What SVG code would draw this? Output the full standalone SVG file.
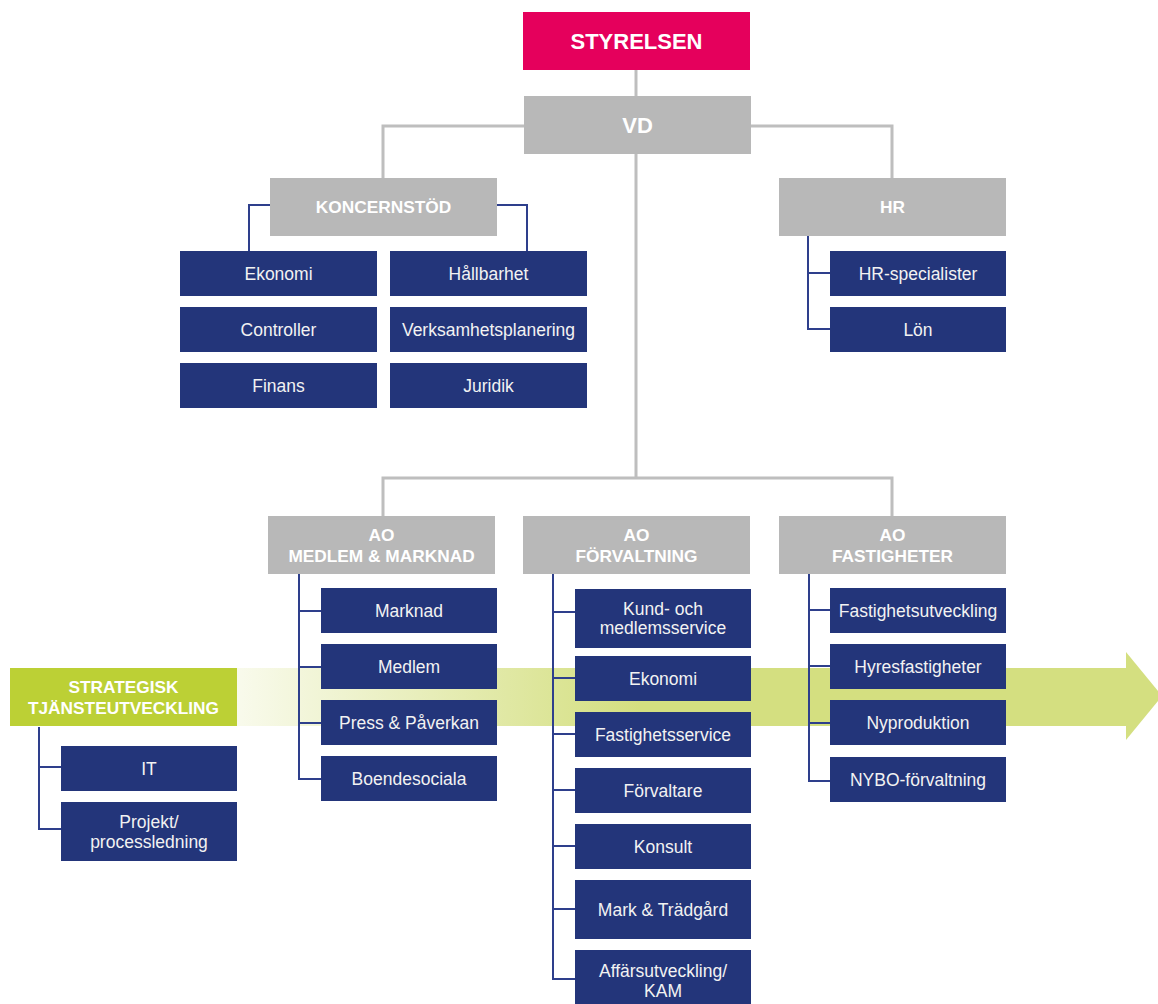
<svg xmlns="http://www.w3.org/2000/svg" width="1158" height="1004" viewBox="0 0 1158 1004">
<style>
.top{fill:#E5005C}
.head{fill:#B8B8B8}
.unit{fill:#23357A}
.strat{fill:#BCD035}
.ht{font-family:"Liberation Sans",Arial,sans-serif;font-weight:bold;fill:#FFFFFF;text-anchor:middle;font-size:17.3px}
.ut{font-family:"Liberation Sans",Arial,sans-serif;fill:#F2F2F2;text-anchor:middle;font-size:17.5px}
.gl{fill:none;stroke:#BEBEBE;stroke-width:3}
.bl{fill:none;stroke:#2E3F8C;stroke-width:2}
</style>
<defs>
<linearGradient id="band" gradientUnits="userSpaceOnUse" x1="237" y1="0" x2="640" y2="0">
<stop offset="0" stop-color="#D4DF80" stop-opacity="0.15"/>
<stop offset="1" stop-color="#D4DF80" stop-opacity="1"/>
</linearGradient>
</defs>
<rect width="1158" height="1004" fill="#FFFFFF"/>
<g id="arrow">
<rect x="237" y="668" width="890" height="58" fill="url(#band)"/>
<polygon points="1126,652 1162,696 1126,740" fill="#D4DF80"/>
</g>
<g id="connectors">
<path class="gl" d="M636,70 V96"/>
<path class="gl" d="M524,126 H383 V178"/>
<path class="gl" d="M751,126 H892 V178"/>
<path class="gl" d="M636,154 V478"/>
<path class="gl" d="M383,516 V478 H892 V516"/>
<path class="bl" d="M270,205 H249 V251"/>
<path class="bl" d="M497,205 H527 V251"/>
<path class="bl" d="M808,236 V329 H830 M808,273 H830"/>
<path class="bl" d="M299,574 V779 H321 M299,611 H321 M299,667 H321 M299,723 H321"/>
<path class="bl" d="M553,574 V979 H575 M553,612 H575 M553,678 H575 M553,734 H575 M553,790 H575 M553,846 H575 M553,909 H575"/>
<path class="bl" d="M809,574 V781 H830 M809,610 H830 M809,666 H830 M809,723 H830"/>
<path class="bl" d="M39,727 V829 H61 M39,767 H61"/>
</g>
<g id="styrelsen"><rect class="top" x="523" y="12" width="227" height="58"/><text class="ht" x="636.5" y="49" style="font-size:22px">STYRELSEN</text></g>
<g id="vd"><rect class="head" x="524" y="96" width="227" height="58"/><text class="ht" x="637.5" y="133" style="font-size:22px">VD</text></g>
<g id="koncernstod"><rect class="head" x="270" y="178" width="227" height="58"/><text class="ht" x="383.5" y="213">KONCERNSTÖD</text></g>
<g id="hr"><rect class="head" x="779" y="178" width="227" height="58"/><text class="ht" x="892.5" y="213">HR</text></g>
<g id="ekonomi1"><rect class="unit" x="180" y="251" width="197" height="45"/><text class="ut" x="278.5" y="280">Ekonomi</text></g>
<g id="controller"><rect class="unit" x="180" y="307" width="197" height="45"/><text class="ut" x="278.5" y="336">Controller</text></g>
<g id="finans"><rect class="unit" x="180" y="363" width="197" height="45"/><text class="ut" x="278.5" y="392">Finans</text></g>
<g id="hallbarhet"><rect class="unit" x="390" y="251" width="197" height="45"/><text class="ut" x="488.5" y="280">Hållbarhet</text></g>
<g id="verksamhetsplanering"><rect class="unit" x="390" y="307" width="197" height="45"/><text class="ut" x="488.5" y="336">Verksamhetsplanering</text></g>
<g id="juridik"><rect class="unit" x="390" y="363" width="197" height="45"/><text class="ut" x="488.5" y="392">Juridik</text></g>
<g id="hr-specialister"><rect class="unit" x="830" y="251" width="176" height="45"/><text class="ut" x="918" y="280">HR-specialister</text></g>
<g id="lon"><rect class="unit" x="830" y="307" width="176" height="45"/><text class="ut" x="918" y="336">Lön</text></g>
<g id="ao-medlem"><rect class="head" x="268" y="516" width="227" height="58"/><text class="ht" x="381.5" y="541">AO</text><text class="ht" x="381.5" y="562">MEDLEM &amp; MARKNAD</text></g>
<g id="ao-forvaltning"><rect class="head" x="523" y="516" width="227" height="58"/><text class="ht" x="636.5" y="541">AO</text><text class="ht" x="636.5" y="562">FÖRVALTNING</text></g>
<g id="ao-fastigheter"><rect class="head" x="779" y="516" width="227" height="58"/><text class="ht" x="892.5" y="541">AO</text><text class="ht" x="892.5" y="562">FASTIGHETER</text></g>
<g id="marknad"><rect class="unit" x="321" y="588" width="176" height="45"/><text class="ut" x="409" y="617">Marknad</text></g>
<g id="medlem"><rect class="unit" x="321" y="644" width="176" height="45"/><text class="ut" x="409" y="673">Medlem</text></g>
<g id="press"><rect class="unit" x="321" y="700" width="176" height="45"/><text class="ut" x="409" y="729">Press &amp; Påverkan</text></g>
<g id="boendesociala"><rect class="unit" x="321" y="756" width="176" height="45"/><text class="ut" x="409" y="785">Boendesociala</text></g>
<g id="kund"><rect class="unit" x="575" y="589" width="176" height="59"/><text class="ut" x="663" y="615">Kund- och</text><text class="ut" x="663" y="634">medlemsservice</text></g>
<g id="ekonomi2"><rect class="unit" x="575" y="656" width="176" height="45"/><text class="ut" x="663" y="685">Ekonomi</text></g>
<g id="fastighetsservice"><rect class="unit" x="575" y="712" width="176" height="45"/><text class="ut" x="663" y="741">Fastighetsservice</text></g>
<g id="forvaltare"><rect class="unit" x="575" y="768" width="176" height="45"/><text class="ut" x="663" y="797">Förvaltare</text></g>
<g id="konsult"><rect class="unit" x="575" y="824" width="176" height="45"/><text class="ut" x="663" y="853">Konsult</text></g>
<g id="mark"><rect class="unit" x="575" y="880" width="176" height="59"/><text class="ut" x="663" y="916">Mark &amp; Trädgård</text></g>
<g id="affarsutveckling"><rect class="unit" x="575" y="950" width="176" height="54"/><text class="ut" x="663" y="977">Affärsutveckling/</text><text class="ut" x="663" y="997">KAM</text></g>
<g id="fastighetsutveckling"><rect class="unit" x="830" y="588" width="176" height="45"/><text class="ut" x="918" y="617">Fastighetsutveckling</text></g>
<g id="hyresfastigheter"><rect class="unit" x="830" y="644" width="176" height="45"/><text class="ut" x="918" y="673">Hyresfastigheter</text></g>
<g id="nyproduktion"><rect class="unit" x="830" y="700" width="176" height="45"/><text class="ut" x="918" y="729">Nyproduktion</text></g>
<g id="nybo"><rect class="unit" x="830" y="757" width="176" height="45"/><text class="ut" x="918" y="786">NYBO-förvaltning</text></g>
<g id="strategisk"><rect class="strat" x="10" y="668" width="227" height="58"/><text class="ht" x="123.5" y="693">STRATEGISK</text><text class="ht" x="123.5" y="714">TJÄNSTEUTVECKLING</text></g>
<g id="it"><rect class="unit" x="61" y="746" width="176" height="45"/><text class="ut" x="149" y="775">IT</text></g>
<g id="projekt"><rect class="unit" x="61" y="802" width="176" height="59"/><text class="ut" x="149" y="828">Projekt/</text><text class="ut" x="149" y="848">processledning</text></g>
</svg>
